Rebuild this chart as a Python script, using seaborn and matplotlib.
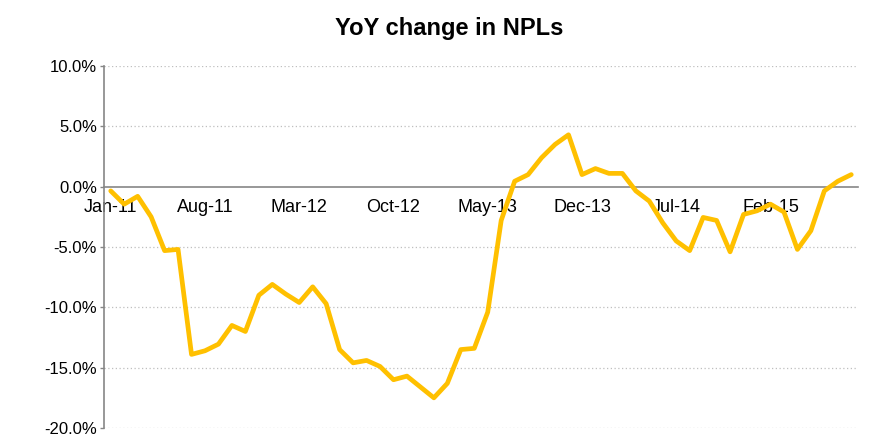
import matplotlib
matplotlib.use("Agg")
from matplotlib import pyplot as plt
from matplotlib.ticker import FixedLocator, FuncFormatter
import numpy as np
import pandas as pd
import seaborn as sns

# Monthly YoY change in NPLs (%), Jan-11 .. Aug-15
months = list(pd.date_range("2011-01-01", periods=56, freq="MS").strftime("%b-%y"))
yoy_change = [
    -0.35, -1.45, -0.8, -2.5, -5.3, -5.2, -13.9, -13.6, -13.05, -11.5,
    -12.0, -9.0, -8.1, -8.9, -9.6, -8.3, -9.7, -13.5, -14.6, -14.4,
    -14.9, -16.0, -15.7, -16.6, -17.5, -16.3, -13.5, -13.4, -10.4, -2.8,
    0.45, 1.0, 2.4, 3.5, 4.3, 1.0, 1.5, 1.1, 1.1, -0.35,
    -1.2, -3.0, -4.5, -5.3, -2.55, -2.8, -5.4, -2.3, -2.0, -1.45,
    -2.1, -5.2, -3.65, -0.35, 0.45, 1.0,
]
tick_labels = ["Jan-11", "Aug-11", "Mar-12", "Oct-12", "May-13", "Dec-13", "Jul-14", "Feb-15"]
y_ticks = [-20, -15, -10, -5, 0, 5, 10]


def main():
    sns.set_style("white")
    plt.rcParams['font.family'] = ['Liberation Sans', 'DejaVu Sans']

    df = pd.DataFrame({'idx': range(len(yoy_change)), 'month': months, 'value': yoy_change})

    fig = plt.figure(figsize=(8.96, 4.46), dpi=100)
    ax = fig.add_axes([104 / 896, 1 - 428 / 446, (858 - 104) / 896, (428 - 66) / 446])

    sns.lineplot(data=df, x='idx', y='value', color='#FFC000', linewidth=3.4, ax=ax, zorder=5)

    ax.set_xlim(-0.5, len(yoy_change) - 0.5)
    ax.set_ylim(-20, 10)

    # dotted gridlines
    for v in y_ticks:
        if v != 0:
            ax.axhline(v, color='#BFBFBF', linestyle=(0, (1, 2)), linewidth=0.9, zorder=0)

    # category labels centred on months, tick marks between categories
    label_pos = [months.index(t) for t in tick_labels]
    ax.xaxis.set_major_locator(FixedLocator(label_pos))
    ax.set_xticklabels(tick_labels)
    ax.xaxis.set_minor_locator(FixedLocator(np.arange(-0.5, len(yoy_change), 7)))
    ax.tick_params(axis='x', which='major', length=0, pad=9, labelsize=13, labelcolor='black')
    ax.tick_params(axis='x', which='minor', length=4, width=1, color='#868686', direction='out')

    ax.set_yticks(y_ticks)
    ax.yaxis.set_major_formatter(FuncFormatter(lambda v, p: f"{v:.1f}%"))
    ax.tick_params(axis='y', length=3, width=1, color='#868686', pad=2, labelsize=12,
                   labelcolor='black', left=True)

    ax.spines['top'].set_visible(False)
    ax.spines['right'].set_visible(False)
    ax.spines['bottom'].set_position(('data', 0))
    for s in ('left', 'bottom'):
        ax.spines[s].set_color('#868686')
        ax.spines[s].set_linewidth(1.2)
    ax.spines['bottom'].set_zorder(1)

    ax.set_xlabel('')
    ax.set_ylabel('')
    fig.suptitle('YoY change in NPLs', x=449 / 896, y=1 - 28 / 446, va='center',
                 fontsize=17, fontweight='bold', color='black')

    plt.savefig('out.png', dpi=100)


if __name__ == '__main__':
    main()
